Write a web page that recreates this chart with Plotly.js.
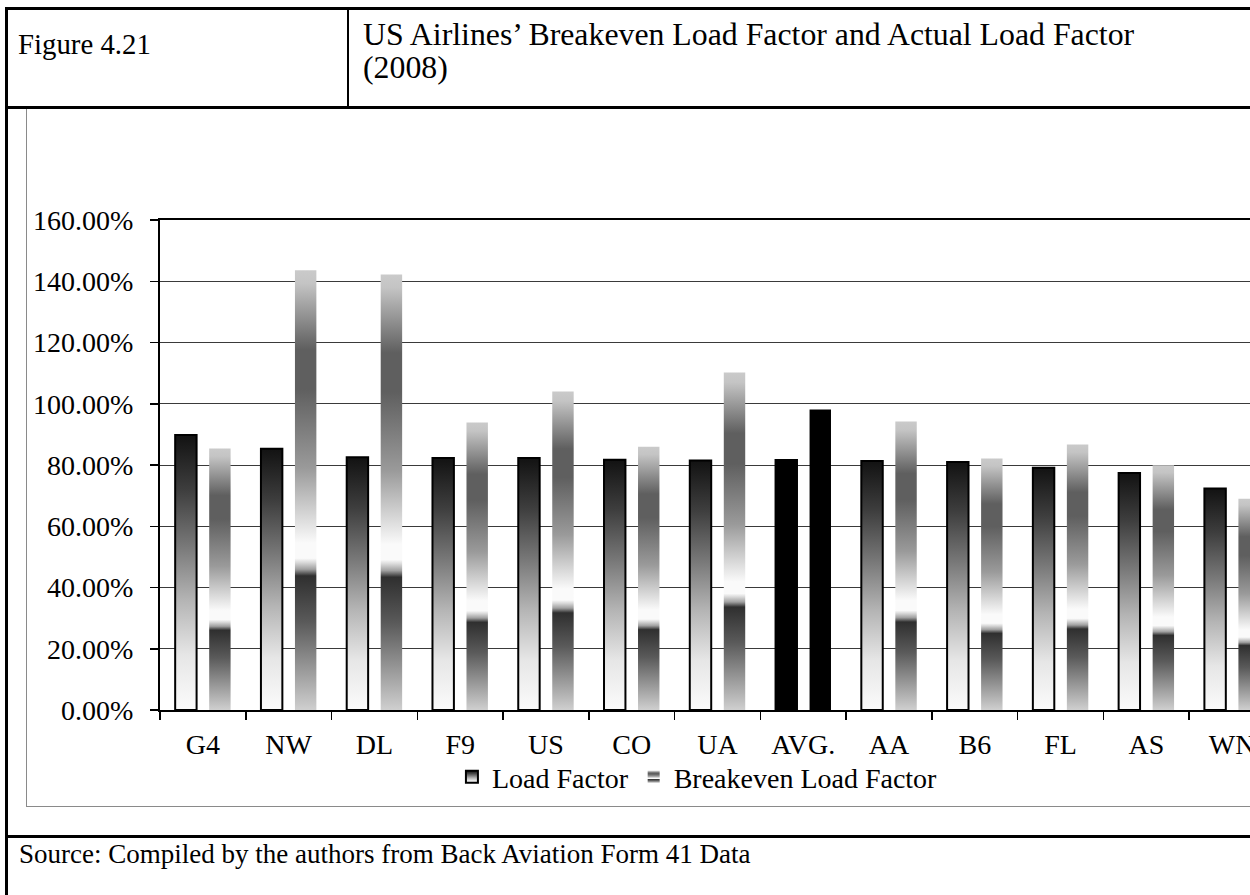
<!DOCTYPE html>
<html>
<head>
<meta charset="utf-8">
<title>US Airlines' Breakeven Load Factor and Actual Load Factor (2008)</title>
<script src="https://cdn.plot.ly/plotly-3.0.1.min.js"></script>
<style>
  html, body { margin: 0; padding: 0; width: 1250px; height: 895px; overflow: hidden; background: #fff; }
  .serif { position: absolute; font-family: "Liberation Serif", "Times New Roman", serif; font-size: 28px; line-height: 33px; color: #000; white-space: nowrap; }
  .rule { position: absolute; background: #000; }
  #box { position: absolute; left: 26px; top: 108px; width: 1300px; height: 697px; border: 1.5px solid #8a8a8a; }
  #chart { position: absolute; left: 0; top: 0; width: 1280px; height: 895px; }
</style>
</head>
<body>
<div id="box"></div>
<div id="chart"></div>

<!-- table frame -->
<div class="rule" style="left:5px;top:7px;width:3px;height:888px"></div>
<div class="rule" style="left:5px;top:7px;width:1245px;height:3px"></div>
<div class="rule" style="left:347px;top:7px;width:2px;height:101px"></div>
<div class="rule" style="left:5px;top:106px;width:1245px;height:3px"></div>
<div class="rule" style="left:5px;top:835px;width:1245px;height:3px"></div>

<div class="serif" style="left:18px;top:28px;font-size:28.8px">Figure 4.21</div>
<div class="serif" style="left:363px;top:18px;font-size:31.8px">US Airlines’ Breakeven Load Factor and Actual Load Factor<br>(2008)</div>
<div class="serif" style="left:19px;top:838px;font-size:27px">Source: Compiled by the authors from Back Aviation Form 41 Data</div>

<script>
// Carriers (plus the industry average) and their 2008 load factors, in percent
const categories = ['G4', 'NW', 'DL', 'F9', 'US', 'CO', 'UA', 'AVG.', 'AA', 'B6', 'FL', 'AS', 'WN'];
const loadFactor = [89.8, 85.3, 82.5, 82.3, 82.3, 81.7, 81.5, 81.6, 81.3, 81.0, 79.1, 77.4, 72.3];
const breakevenLoadFactor = [85.4, 143.6, 142.2, 93.9, 104.0, 86.0, 110.2, 98.1, 94.2, 82.1, 86.7, 79.9, 69.0];
const seriesNames = ['Load Factor', 'Breakeven Load Factor'];
const averageLabel = 'AVG.';

const FONT = 'Liberation Serif';
const gradientIds = ['lfGradient', 'blfGradient'];

// vertical fills: top of the bar at offset 0, baseline at offset 1
const gradientStops = {
  lfGradient: [[0, '#121212'], [0.2, '#3e3e3e'], [0.4, '#777777'], [0.6, '#b4b4b4'], [0.8, '#e6e6e6'], [1, '#fbfbfb']],
  blfGradient: [[0, '#cacaca'], [0.03, '#c4c4c4'], [0.18, '#5f5f5f'], [0.27, '#5f5f5f'], [0.45, '#9a9a9a'],
                [0.62, '#fafafa'], [0.655, '#fafafa'], [0.665, '#d8d8d8'], [0.68, '#a0a0a0'], [0.695, '#2f2f2f'],
                [0.8, '#5a5a5a'], [1, '#cfcfcf']]
};

const barColours = categories.map(c => c === averageLabel ? '#000000' : '#808080');

const traces = [
  {
    type: 'bar', name: seriesNames[0], x: categories, y: loadFactor,
    marker: { color: barColours, line: { color: '#000', width: 2 } }
  },
  {
    type: 'bar', name: seriesNames[1], x: categories, y: breakevenLoadFactor,
    marker: { color: barColours, line: { width: 0 } }
  }
];

const layout = {
  width: 1280, height: 895,
  margin: { l: 160, r: 5, t: 220, b: 185, pad: 0 },
  paper_bgcolor: 'rgba(0,0,0,0)',
  plot_bgcolor: 'rgba(0,0,0,0)',
  font: { family: FONT, size: 28, color: '#000' },
  barmode: 'group',
  bargap: 0.207,
  bargroupgap: 0.37,
  showlegend: true,
  xaxis: {
    type: 'category', tickson: 'boundaries', ticks: 'outside', ticklen: 8, tickwidth: 1.5, tickcolor: '#000',
    showline: true, linewidth: 2, linecolor: '#000', mirror: true, showgrid: false,
    ticklabelstandoff: 8,
    tickfont: { family: FONT, size: 28, color: '#000' }, fixedrange: true
  },
  yaxis: {
    range: [0, 160], tick0: 0, dtick: 20, tickformat: '.2f', ticksuffix: '%',
    ticks: 'outside', ticklen: 8, tickwidth: 1.5, tickcolor: '#000',
    showline: true, linewidth: 2, linecolor: '#000',
    showgrid: true, gridcolor: '#3a3a3a', gridwidth: 1, zeroline: false,
    ticklabelstandoff: 11,
    tickfont: { family: FONT, size: 28, color: '#000' }, fixedrange: true
  },
  legend: {
    orientation: 'h', x: 0.482, xanchor: 'center', y: -0.137, yanchor: 'middle',
    font: { family: FONT, size: 28, color: '#000' }, bgcolor: 'rgba(0,0,0,0)', traceorder: 'normal'
  }
};

function ensureGradients(gd) {
  if (document.getElementById(gradientIds[0])) return;
  const ns = 'http://www.w3.org/2000/svg';
  const svg = gd.querySelector('svg.main-svg');
  let defs = svg.querySelector('defs');
  if (!defs) { defs = document.createElementNS(ns, 'defs'); svg.insertBefore(defs, svg.firstChild); }
  gradientIds.forEach(id => {
    const g = document.createElementNS(ns, 'linearGradient');
    g.setAttribute('id', id);
    g.setAttribute('x1', '0'); g.setAttribute('y1', '0');
    g.setAttribute('x2', '0'); g.setAttribute('y2', '1');
    gradientStops[id].forEach(([off, col]) => {
      const s = document.createElementNS(ns, 'stop');
      s.setAttribute('offset', off);
      s.setAttribute('stop-color', col);
      g.appendChild(s);
    });
    defs.appendChild(g);
  });
}

function paintBars(gd) {
  ensureGradients(gd);
  gd.querySelectorAll('.barlayer .trace').forEach((tr, ti) => {
    tr.querySelectorAll('.point path').forEach((p, i) => {
      if (categories[i] !== averageLabel) p.style.fill = 'url(#' + gradientIds[ti] + ')';
    });
  });
  gd.querySelectorAll('.legend .traces').forEach((item, ti) => {
    const p = item.querySelector('.legendpoints path');
    if (p) p.style.fill = 'url(#' + gradientIds[ti] + ')';
  });
}

const gd = document.getElementById('chart');
Plotly.newPlot(gd, traces, layout, { staticPlot: true, displayModeBar: false }).then(() => {
  paintBars(gd);
  gd.on('plotly_afterplot', () => paintBars(gd));
});
</script>
</body>
</html>
